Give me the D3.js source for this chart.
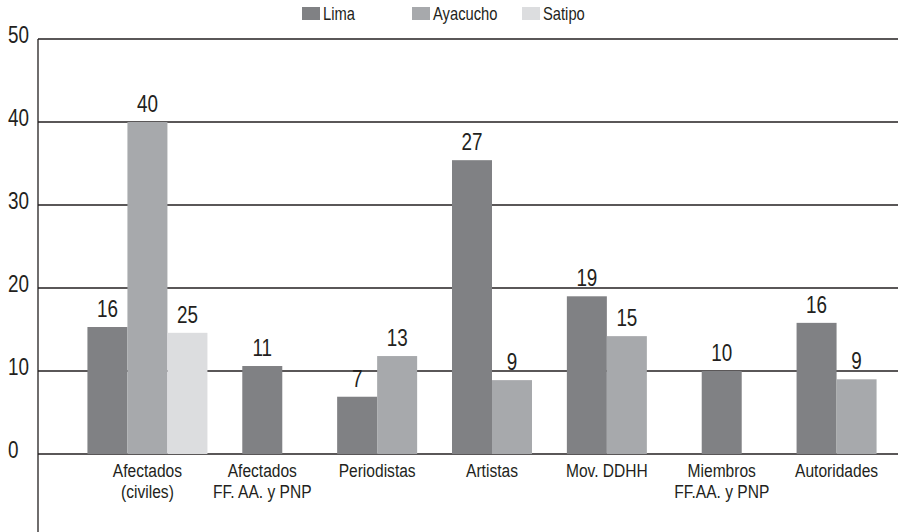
<!DOCTYPE html>
<html>
<head>
<meta charset="utf-8">
<script src="https://cdn.jsdelivr.net/npm/d3@7"></script>
<style>
  body { margin: 0; background: #ffffff; }
  text { font-family: "Liberation Sans", Arial, sans-serif; fill: #231f20; }
</style>
</head>
<body>
<div class="chart"></div>
<script>
// categories (multi-line labels)
var categories = [
  ["Afectados", "(civiles)"],
  ["Afectados", "FF. AA. y PNP"],
  ["Periodistas"],
  ["Artistas"],
  ["Mov. DDHH"],
  ["Miembros", "FF.AA. y PNP"],
  ["Autoridades"]
];
var seriesNames = ["Lima", "Ayacucho", "Satipo"];
var seriesColors = ["#808184", "#a7a9ac", "#dcdddf"];

// bar heights as drawn in the picture
var lima     = [15.3, 10.6, 6.9, 35.4, 19.0, 10.0, 15.8];
var ayacucho = [40.0, 0, 11.8, 8.9, 14.2, 0, 9.0];
var satipo   = [14.6, 0, 0, 0, 0, 0, 0];

// numbers printed above the bars
var limaLabels     = ["16", "11", "7", "27", "19", "10", "16"];
var ayacuchoLabels = ["40", "", "13", "9", "15", "", "9"];
var satipoLabels   = ["25", "", "", "", "", "", ""];

var yTicks = [0, 10, 20, 30, 40, 50];

var width = 898, height = 532;
var barWidth = 40;
var narrow = 0.82; // condensed look

var canvas = d3.select(".chart").append("svg")
    .attr("width", width)
    .attr("height", height);

var y = d3.scaleLinear().domain([0, 50]).range([454, 39]);

var catIdx = d3.range(categories.length);
var x = d3.scaleBand().domain(catIdx).range([90, 894]);

var values = [lima, ayacucho, satipo];
var labels = [limaLabels, ayacuchoLabels, satipoLabels];

function at(px, py)
{
    return "translate(" + px + "," + py + ") scale(" + narrow + ",1)";
}

// gridlines
canvas.selectAll("line.grid")
    .data(yTicks)
    .enter()
        .append("line")
        .attr("class", "grid")
        .attr("x1", 38)
        .attr("x2", width)
        .attr("y1", function (d) { return y(d); })
        .attr("y2", function (d) { return y(d); })
        .attr("stroke", "#231f20")
        .attr("stroke-width", 1.3);

// y axis line
canvas.append("line")
    .attr("x1", 38).attr("x2", 38)
    .attr("y1", y(50)).attr("y2", height)
    .attr("stroke", "#231f20")
    .attr("stroke-width", 1.3);

canvas.selectAll("text.ytick")
    .data(yTicks)
    .enter()
        .append("text")
        .attr("class", "ytick")
        .attr("transform", function (d) { return at(8, y(d) + 4); })
        .style("font-size", "23px")
        .text(function (d) { return d; });

// bars: each group centers only the series present
var bars = [];
catIdx.forEach(function (c) {
    var present = d3.range(seriesNames.length).filter(function (s) { return values[s][c] > 0; });
    var inner = d3.scaleBand().domain(present)
        .range([-present.length * barWidth / 2, present.length * barWidth / 2]);
    present.forEach(function (s) {
        bars.push({
            s: s,
            v: values[s][c],
            label: labels[s][c],
            x: x(c) + x.bandwidth() / 2 + inner(s),
            w: inner.bandwidth()
        });
    });
});

canvas.selectAll("rect.bar")
    .data(bars)
    .enter()
        .append("rect")
        .attr("class", "bar")
        .attr("x", function (d) { return d.x; })
        .attr("width", function (d) { return d.w; })
        .attr("y", function (d) { return y(d.v); })
        .attr("height", function (d) { return y(0) - y(d.v); })
        .attr("fill", function (d) { return seriesColors[d.s]; });

canvas.selectAll("text.val")
    .data(bars)
    .enter()
        .append("text")
        .attr("class", "val")
        .attr("transform", function (d) { return at(d.x + d.w / 2, y(d.v) - 10); })
        .attr("text-anchor", "middle")
        .style("font-size", "23px")
        .text(function (d) { return d.label; });

// category labels
var cat = canvas.selectAll("text.cat")
    .data(catIdx)
    .enter()
        .append("text")
        .attr("class", "cat")
        .attr("text-anchor", "middle")
        .attr("transform", function (c) { return at(x(c) + x.bandwidth() / 2, 477); })
        .style("font-size", "19px");

cat.selectAll("tspan")
    .data(function (c) {
        return categories[c].map(function (t, i) { return { t: t, i: i }; });
    })
    .enter()
        .append("tspan")
        .attr("x", 0)
        .attr("y", function (d) { return d.i * 21; })
        .text(function (d) { return d.t; });

// legend
var lx = d3.scaleBand().domain(seriesNames).range([302, 632]);
var leg = canvas.selectAll("g.leg")
    .data(seriesNames)
    .enter()
        .append("g")
        .attr("class", "leg")
        .attr("transform", function (d) { return "translate(" + lx(d) + ",0)"; });

leg.append("rect")
    .attr("x", 0).attr("y", 7)
    .attr("width", 18).attr("height", 13)
    .attr("fill", function (d, i) { return seriesColors[i]; });

leg.append("text")
    .attr("transform", at(21, 20))
    .style("font-size", "18px")
    .text(function (d) { return d; });
</script>
</body>
</html>
